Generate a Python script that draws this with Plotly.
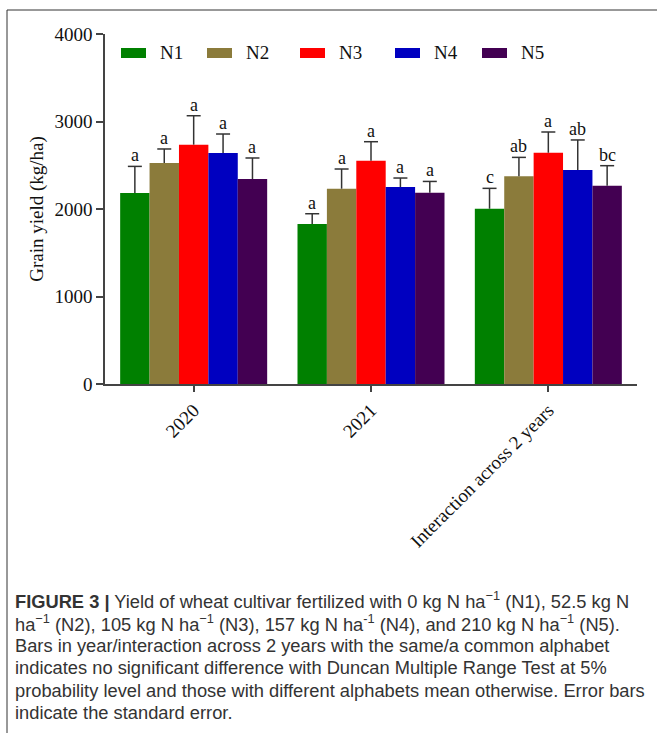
import plotly.graph_objects as go

categories = ["2020", "2021", "Interaction across 2 years"]
series_names = ["N1", "N2", "N3", "N4", "N5"]
colors = ["#008000", "#8B7B3B", "#FF0000", "#0000C0", "#430052"]

# mean grain yield (kg/ha) per series, per category
yield_N1 = [2183, 1829, 2003]
yield_N2 = [2526, 2232, 2373]
yield_N3 = [2735, 2552, 2643]
yield_N4 = [2640, 2251, 2446]
yield_N5 = [2343, 2186, 2266]

# standard errors
se_N1 = [304, 117, 233]
se_N2 = [160, 225, 217]
se_N3 = [331, 217, 237]
se_N4 = [217, 103, 343]
se_N5 = [240, 129, 229]

# Duncan letters
letters_N1 = ["a", "a", "c"]
letters_N2 = ["a", "a", "ab"]
letters_N3 = ["a", "a", "a"]
letters_N4 = ["a", "a", "ab"]
letters_N5 = ["a", "a", "bc"]

yticks = [0, 1000, 2000, 3000, 4000]

values = [yield_N1, yield_N2, yield_N3, yield_N4, yield_N5]
errors = [se_N1, se_N2, se_N3, se_N4, se_N5]
letters = [letters_N1, letters_N2, letters_N3, letters_N4, letters_N5]

W, H = 657, 733
L, R, T, B = 105, 20, 34, 349
pw, ph = W - L - R, H - T - B
XMIN, XMAX = -0.5, 2.5

def px(x):
    return (x - L) / pw

def py(y):
    return (H - B - y) / ph

SERIF = "Liberation Serif, Times New Roman, serif"
SANS = "Liberation Sans, Arial, sans-serif"

xidx = list(range(len(categories)))
bargap = 0.171
n = len(series_names)
group_w = 1 - bargap
bar_w = group_w / n
cap_half = 7 / (pw / (XMAX - XMIN))  # error bar cap half-width (7 px) in axis units

fig = go.Figure()
for name, vals, col in zip(series_names, values, colors):
    fig.add_trace(go.Bar(
        name=name, x=xidx, y=vals,
        marker=dict(color=col, line=dict(width=0)),
        showlegend=False, hoverinfo="x+y",
    ))

annotations = []
for i, (vals, se, lets) in enumerate(zip(values, errors, letters)):
    off = -group_w / 2 + (i + 0.5) * bar_w
    ex, ey = [], []
    for j in xidx:
        xc = j + off
        top = vals[j] + se[j]
        ex += [xc, xc, None, xc - cap_half, xc + cap_half, None]
        ey += [vals[j], top, None, top, top, None]
        annotations.append(dict(
            x=xc, y=top, xref="x", yref="y",
            text=lets[j], showarrow=False, yanchor="bottom", yshift=-1,
            font=dict(family=SERIF, size=18, color="#111111"),
        ))
    fig.add_trace(go.Scatter(
        x=ex, y=ey, mode="lines", line=dict(color="#333333", width=1.5),
        showlegend=False, hoverinfo="skip",
    ))

# custom legend
shapes = []
leg_swatch_x = [121, 207, 300, 395, 482]
leg_y = 53
for name, col, sx in zip(series_names, colors, leg_swatch_x):
    shapes.append(dict(type="rect", xref="paper", yref="paper",
                       x0=px(sx), x1=px(sx + 25), y0=py(leg_y + 5), y1=py(leg_y - 5),
                       fillcolor=col, line=dict(width=0)))
    annotations.append(dict(x=px(sx + 37), y=py(leg_y), xref="paper", yref="paper",
                            text=name, showarrow=False, xanchor="left", yanchor="middle",
                            font=dict(family=SERIF, size=19, color="#111111")))

# frame lines
shapes.append(dict(type="line", xref="paper", yref="paper",
                   x0=px(7), x1=px(660), y0=py(10), y1=py(10),
                   line=dict(color="#333333", width=1)))
shapes.append(dict(type="line", xref="paper", yref="paper",
                   x0=px(7), x1=px(7), y0=py(10), y1=py(740),
                   line=dict(color="#333333", width=1)))

caption_lines = [
    "<b>FIGURE 3 |</b> Yield of wheat cultivar fertilized with 0 kg N ha<sup>−1</sup> (N1), 52.5 kg N",
    "ha<sup>−1</sup> (N2), 105 kg N ha<sup>−1</sup> (N3), 157 kg N ha<sup>-1</sup> (N4), and 210 kg N ha<sup>−1</sup> (N5).",
    "Bars in year/interaction across 2 years with the same/a common alphabet",
    "indicates no significant difference with Duncan Multiple Range Test at 5%",
    "probability level and those with different alphabets mean otherwise. Error bars",
    "indicate the standard error.",
]
cap_y = [600, 622.5, 645, 667.5, 690, 712.5]
for line, yy in zip(caption_lines, cap_y):
    annotations.append(dict(x=px(13), y=py(yy), xref="paper", yref="paper",
                            text=line, showarrow=False, xanchor="left", yanchor="middle",
                            font=dict(family=SANS, size=18.3, color="#333333")))

fig.update_layout(
    width=W, height=H,
    margin=dict(l=L, r=R, t=T, b=B, autoexpand=False),
    paper_bgcolor="white", plot_bgcolor="white",
    barmode="group", bargap=bargap, bargroupgap=0,
    showlegend=False,
    annotations=annotations, shapes=shapes,
    xaxis=dict(range=[XMIN, XMAX], tickvals=xidx, ticktext=categories,
               showline=True, linecolor="#444444", linewidth=1.5,
               ticks="outside", ticklen=6, tickcolor="#444444", tickwidth=1.5,
               tickangle=-45, showgrid=False, zeroline=False,
               tickfont=dict(family=SERIF, size=19, color="#111111")),
    yaxis=dict(range=[0, 4000], tickvals=yticks, showline=True, linecolor="#444444", linewidth=1.5,
               ticks="outside", ticklen=7, tickcolor="#444444", tickwidth=1.5,
               showgrid=False, zeroline=False,
               tickfont=dict(family=SERIF, size=19, color="#111111"),
               title=dict(text="Grain yield (kg/ha)", standoff=6,
                          font=dict(family=SERIF, size=19, color="#111111"))),
)

fig.write_html("out.html", config={"displayModeBar": False},
               post_script="document.body.style.margin='0';")
